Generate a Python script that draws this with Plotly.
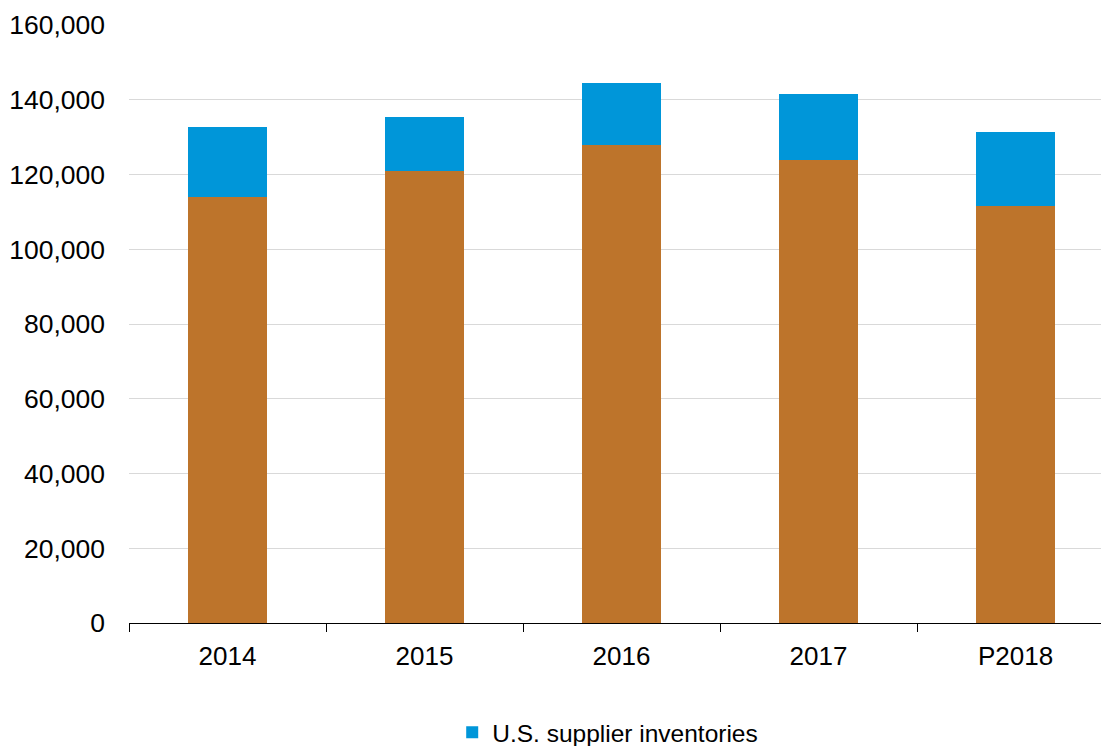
import plotly.graph_objects as go

categories = ["2014", "2015", "2016", "2017", "P2018"]
base_values = [114000, 120900, 127900, 123900, 111600]
supplier_inventories = [18700, 14500, 16600, 17600, 19800]
y_ticks = [0, 20000, 40000, 60000, 80000, 100000, 120000, 140000, 160000]

BROWN = "#BD742B"
BLUE = "#0096D9"
FONT = "Liberation Sans, Arial, sans-serif"

fig = go.Figure()
fig.add_trace(go.Bar(
    x=categories, y=base_values, name="Consumption",
    marker=dict(color=BROWN, line=dict(width=0)), showlegend=False,
))
fig.add_trace(go.Bar(
    x=categories, y=supplier_inventories, name="U.S. supplier inventories",
    marker=dict(color=BLUE, line=dict(width=0)),
))

fig.update_layout(
    width=1101, height=746,
    barmode="stack", bargap=0.6,
    paper_bgcolor="white", plot_bgcolor="white",
    margin=dict(l=129, r=0, t=25, b=123, autoexpand=False),
    font=dict(family=FONT, size=24, color="#000000"),
    legend=dict(orientation="h", x=0.4925, xanchor="center", y=-0.183, yanchor="middle",
                font=dict(size=24.5), itemwidth=30, traceorder="normal"),
    xaxis=dict(
        type="category", range=[-0.5, 4.434], automargin=False,
        showline=True, linecolor="#000000", linewidth=1,
        ticks="outside", tickson="boundaries", ticklen=8, tickcolor="#000000",
        tickfont=dict(size=26), showgrid=False, ticklabelstandoff=10,
    ),
    yaxis=dict(
        range=[0, 160000], tickvals=y_ticks, tickformat=",d", automargin=False,
        showgrid=True, gridcolor="#D9D9D9", gridwidth=1,
        showline=False, zeroline=False, ticks="", ticklabelstandoff=23,
        tickfont=dict(size=26.5),
    ),
)

fig.write_html(
    "out.html",
    config={"displayModeBar": False},
    post_script="document.body.style.margin='0';document.body.style.overflow='hidden';",
)
